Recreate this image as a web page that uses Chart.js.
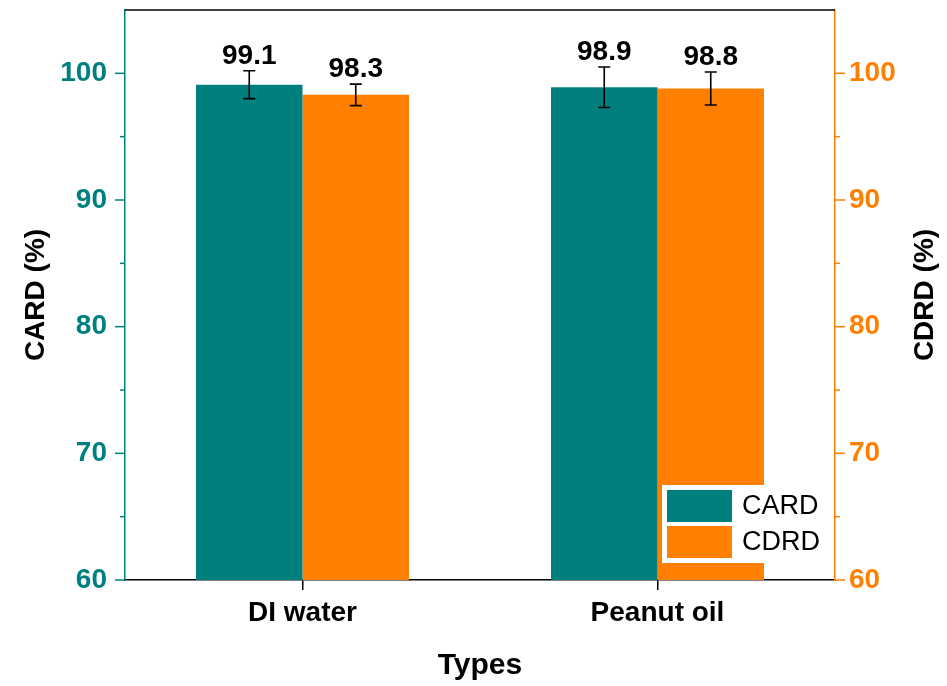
<!DOCTYPE html>
<html>
<head>
<meta charset="utf-8">
<script src="https://cdn.jsdelivr.net/npm/chart.js@4/dist/chart.umd.min.js"></script>
<style>
  html, body { margin: 0; padding: 0; background: #fff; }
  #wrap { width: 947px; height: 686px; }
</style>
</head>
<body>
<div id="wrap"><canvas id="myChart" width="947" height="686"></canvas></div>
<script>
const categories = ['DI water', 'Peanut oil'];
const card_values = [99.1, 98.9];
const card_errors = [1.1, 1.6];
const cdrd_values = [98.3, 98.8];
const cdrd_errors = [0.85, 1.3];
const y_ticks = [60, 70, 80, 90, 100];

const TEAL = '#007F7F';
const ORANGE = '#FF8000';
const FONT = 'Liberation Sans, Arial, sans-serif';

// error bars + value labels on top of each bar
const errorBars = {
  id: 'errorBars',
  afterDatasetsDraw(chart) {
    const ctx = chart.ctx;
    chart.data.datasets.forEach((ds, i) => {
      const meta = chart.getDatasetMeta(i);
      const scale = chart.scales[meta.yAxisID];
      meta.data.forEach((bar, j) => {
        const v = ds.data[j];
        const e = ds.errors[j];
        const top = scale.getPixelForValue(v + e);
        const bot = scale.getPixelForValue(v - e);
        ctx.save();
        ctx.strokeStyle = '#000';
        ctx.lineWidth = 1.6;
        ctx.beginPath();
        ctx.moveTo(bar.x, top); ctx.lineTo(bar.x, bot);
        ctx.moveTo(bar.x - 6, top); ctx.lineTo(bar.x + 6, top);
        ctx.moveTo(bar.x - 6, bot); ctx.lineTo(bar.x + 6, bot);
        ctx.stroke();
        ctx.fillStyle = '#000';
        ctx.font = 'bold 28px ' + FONT;
        ctx.textAlign = 'center';
        ctx.textBaseline = 'alphabetic';
        ctx.fillText(v.toFixed(1), bar.x, top - 7);
        ctx.restore();
      });
    });
  }
};

// tick marks (major/minor), top frame, right title, legend box
const decorations = {
  id: 'decorations',
  afterDraw(chart) {
    const ctx = chart.ctx;
    const area = chart.chartArea;
    ctx.save();
    // top frame
    ctx.strokeStyle = '#000';
    ctx.lineWidth = 1.5;
    ctx.beginPath();
    ctx.moveTo(area.left, area.top); ctx.lineTo(area.right, area.top);
    ctx.stroke();

    // y tick marks
    [['y', TEAL, -1], ['y1', ORANGE, 1]].forEach(([id, color, dir]) => {
      const sc = chart.scales[id];
      const x0 = dir < 0 ? area.left : area.right;
      ctx.strokeStyle = color;
      ctx.lineWidth = 1.5;
      sc.ticks.forEach(t => {
        if (t.value >= sc.max) return;
        const len = t.value % 10 === 0 ? 10 : 5;
        const py = sc.getPixelForValue(t.value);
        ctx.beginPath();
        ctx.moveTo(x0, py); ctx.lineTo(x0 + dir * len, py);
        ctx.stroke();
      });
    });

    // right axis title, reading bottom to top like the left one
    ctx.fillStyle = '#000';
    ctx.font = 'bold 28px ' + FONT;
    ctx.textAlign = 'center';
    ctx.textBaseline = 'middle';
    ctx.translate(chart.width - 22, (area.top + area.bottom) / 2);
    ctx.rotate(-Math.PI / 2);
    ctx.fillText('CDRD (%)', 0, 0);
    ctx.restore();

    // legend inside the plot, bottom right
    ctx.save();
    const lx = area.right - 173, ly = area.bottom - 95;
    ctx.fillStyle = '#fff';
    ctx.fillRect(lx, ly, 102, 78);
    chart.data.datasets.forEach((ds, i) => {
      const sy = ly + 5 + i * 36;
      ctx.fillStyle = ds.backgroundColor;
      ctx.fillRect(lx + 5, sy, 65, 32);
      ctx.fillStyle = '#000';
      ctx.font = '27px ' + FONT;
      ctx.textAlign = 'left';
      ctx.textBaseline = 'middle';
      ctx.fillText(ds.label, lx + 80, sy + 17);
    });
    ctx.restore();
  }
};

const ctx = document.getElementById('myChart').getContext('2d');

const myChart = new Chart(ctx, {
  type: 'bar',
  data: {
    labels: categories,
    datasets: [
      {
        label: 'CARD',
        data: card_values,
        errors: card_errors,
        backgroundColor: TEAL,
        yAxisID: 'y',
        categoryPercentage: 0.6,
        barPercentage: 1.0
      },
      {
        label: 'CDRD',
        data: cdrd_values,
        errors: cdrd_errors,
        backgroundColor: ORANGE,
        yAxisID: 'y1',
        categoryPercentage: 0.6,
        barPercentage: 1.0
      }
    ]
  },
  options: {
    responsive: false,
    animation: false,
    layout: { padding: { top: 10, left: 0, right: 0, bottom: 0 } },
    plugins: {
      legend: { display: false },
      tooltip: { enabled: false }
    },
    scales: {
      x: {
        grid: {
          display: true,
          drawOnChartArea: false,
          offset: false,
          tickLength: 10,
          color: '#000',
          lineWidth: 1.5
        },
        border: { display: true, color: '#000', width: 1.5 },
        ticks: {
          color: '#000',
          padding: 6,
          font: { family: FONT, size: 28, weight: 'bold' }
        },
        title: {
          display: true,
          text: 'Types',
          color: '#000',
          padding: { top: 0, bottom: 2 },
          font: { family: FONT, size: 30, weight: 'bold' }
        },
        afterFit(scale) { scale.height = 106; scale.paddingLeft = 0; scale.paddingRight = 0; }
      },
      y: {
        position: 'left',
        min: 60,
        max: 105,
        grid: { display: false, drawTicks: true, tickLength: 10 },
        border: { display: true, color: TEAL, width: 1.5 },
        ticks: {
          stepSize: 5,
          color: TEAL,
          padding: 8,
          font: { family: FONT, size: 28, weight: 'bold' },
          callback: v => (y_ticks.includes(v) ? v : '')
        },
        title: {
          display: true,
          text: 'CARD (%)',
          color: '#000',
          padding: { top: 19, bottom: 0 },
          font: { family: FONT, size: 28, weight: 'bold' }
        },
        afterFit(scale) { scale.width = 125; scale.paddingTop = 0; scale.paddingBottom = 0; }
      },
      y1: {
        position: 'right',
        min: 60,
        max: 105,
        grid: { display: false, drawTicks: true, tickLength: 10 },
        border: { display: true, color: ORANGE, width: 1.5 },
        ticks: {
          stepSize: 5,
          color: ORANGE,
          padding: 4,
          font: { family: FONT, size: 28, weight: 'bold' },
          callback: v => (y_ticks.includes(v) ? v : '')
        },
        afterFit(scale) { scale.width = 112; scale.paddingTop = 0; scale.paddingBottom = 0; }
      }
    }
  },
  plugins: [errorBars, decorations]
});
</script>
</body>
</html>
